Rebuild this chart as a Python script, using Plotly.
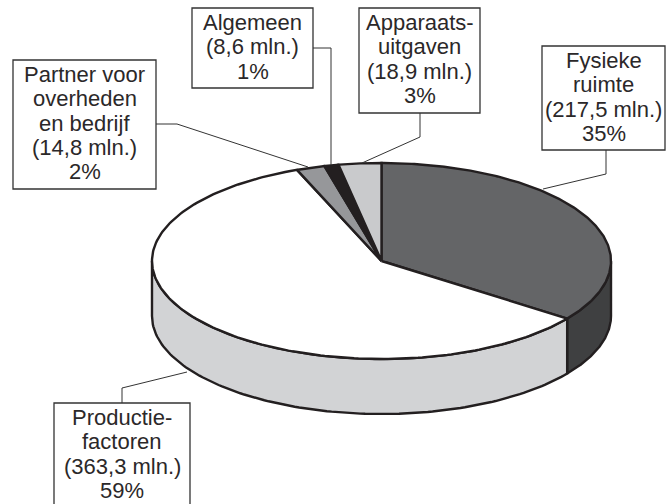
import numpy as np
import plotly.graph_objects as go

categories = ["Fysieke ruimte", "Productiefactoren", "Partner voor overheden en bedrijf", "Algemeen", "Apparaatsuitgaven"]
shares = [35, 59, 2, 1, 3]
top_colors = ["#646567", "#ffffff", "#96979a", "#231f20", "#c9cacc"]
side_colors = ["#3f4041", "#d2d3d5", "#96979a", "#231f20", "#c9cacc"]
labels = [
    ["Fysieke", "ruimte", "(217,5 mln.)", "35%"],
    ["Productie-", "factoren", "(363,3 mln.)", "59%"],
    ["Partner voor", "overheden", "en bedrijf", "(14,8 mln.)", "2%"],
    ["Algemeen", "(8,6 mln.)", "1%"],
    ["Apparaats-", "uitgaven", "(18,9 mln.)", "3%"],
]
boxes = [(542, 46, 665, 150), (54, 403, 190, 510), (13, 60, 156, 189), (192, 8, 313, 88), (359, 8, 480, 113)]
leaders = [
    ([606, 606, 543], [150, 174, 189]),
    ([122, 122, 187], [403, 388, 372]),
    ([156, 177, 308], [124, 124, 167]),
    ([313, 331, 331], [48, 48, 165]),
    ([420, 420, 362], [113, 137, 163]),
]

CX, CY, RX, RY, DEPTH = 381.5, 261, 229.5, 98, 55
INK = "#231f20"
LINE_STEP = 24.3

fig = go.Figure()

def ell(t, dy=0):
    return CX + RX * np.sin(t), CY - RY * np.cos(t) + dy

bounds = np.cumsum([0] + shares) / sum(shares) * 2 * np.pi

for i, c in enumerate(side_colors):
    a, b = max(bounds[i], np.pi / 2), min(bounds[i + 1], 3 * np.pi / 2)
    if a >= b:
        continue
    t = np.linspace(a, b, 120)
    x1, y1 = ell(t)
    x2, y2 = ell(t[::-1], DEPTH)
    fig.add_trace(go.Scatter(x=np.r_[x1, x2, x1[0]], y=np.r_[y1, y2, y1[0]], mode="lines", fill="toself",
                             fillcolor=c, line=dict(color=INK, width=2.4), hoverinfo="skip"))
for i, c in enumerate(top_colors):
    t = np.linspace(bounds[i], bounds[i + 1], 200)
    x1, y1 = ell(t)
    fig.add_trace(go.Scatter(x=np.r_[CX, x1, CX], y=np.r_[CY, y1, CY], mode="lines", fill="toself",
                             fillcolor=c, line=dict(color=INK, width=2.4), hoverinfo="skip", name=categories[i]))
for lx, ly in leaders:
    fig.add_trace(go.Scatter(x=lx, y=ly, mode="lines", line=dict(color="#333333", width=1), hoverinfo="skip"))

for (x0, y0, x1, y1), lines in zip(boxes, labels):
    fig.add_shape(type="rect", x0=x0, y0=y0, x1=x1, y1=y1, line=dict(color="#333333", width=1.3),
                  fillcolor="white", layer="above")
    for k, s in enumerate(lines):
        fig.add_annotation(x=(x0 + x1) / 2, y=y0 + 14.5 + k * LINE_STEP, text=s, showarrow=False, yanchor="middle",
                           font=dict(family="Liberation Sans", size=22, color="#2b2829"), align="center")

fig.update_layout(
    width=666, height=504, margin=dict(l=0, r=0, t=0, b=0), showlegend=False,
    paper_bgcolor="white", plot_bgcolor="white",
    xaxis=dict(range=[0, 666], visible=False, fixedrange=True),
    yaxis=dict(range=[504, 0], visible=False, fixedrange=True),
)
fig.write_html("out.html", config={"displayModeBar": False},
               post_script="document.body.style.margin='0';document.documentElement.style.overflow='hidden';")
